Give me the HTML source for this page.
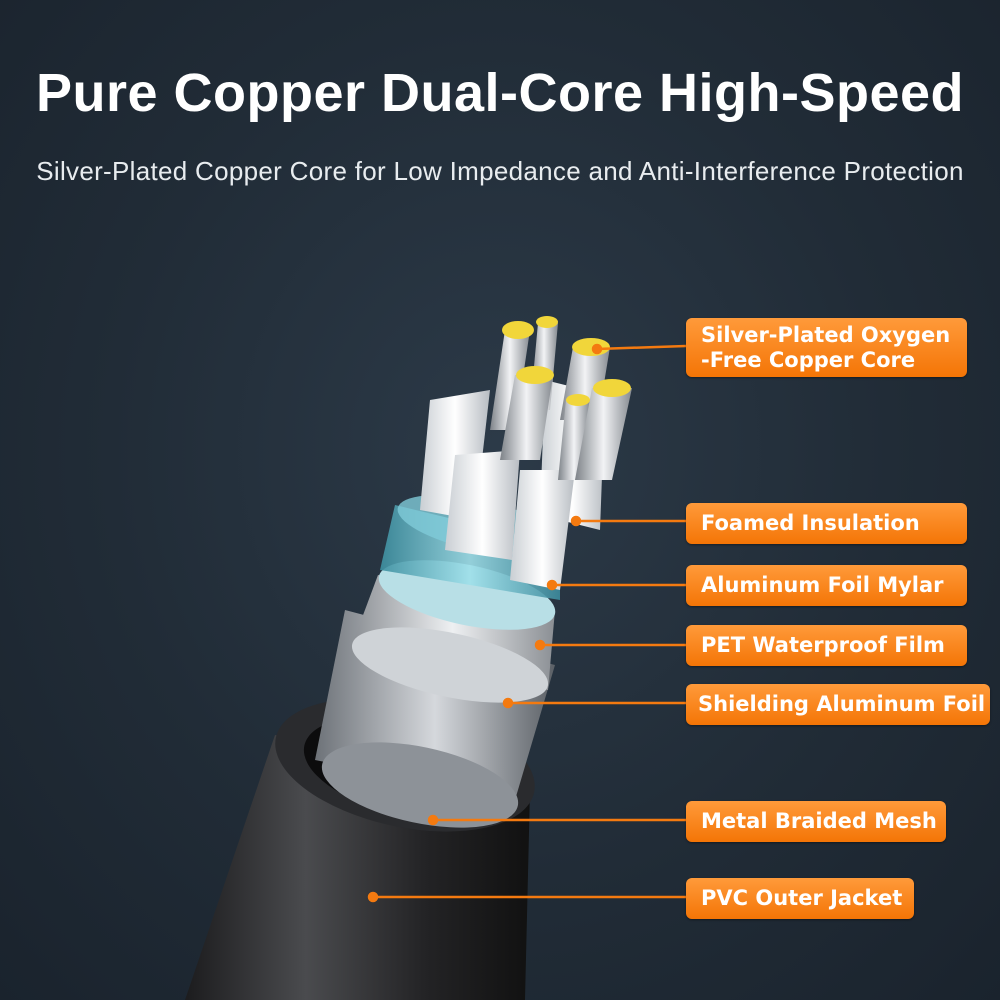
<!DOCTYPE html>
<html><head><meta charset="utf-8"><style>
html,body{margin:0;padding:0}
body{width:1000px;height:1000px;overflow:hidden;background:radial-gradient(ellipse at 50% 45%,#2c3a48 0%,#212c37 55%,#1a232d 100%);font-family:"Liberation Sans",sans-serif;position:relative}
h1{position:absolute;top:62px;left:0;width:1000px;text-align:center;margin:0;color:#fff;font-size:54px;font-weight:bold;letter-spacing:0.5px}
.sub{position:absolute;top:156px;left:0;width:1000px;text-align:center;color:#e8ecef;font-size:26px;letter-spacing:0.3px}
.lb{position:absolute;left:686px;background:linear-gradient(180deg,#ff9a3a,#f47506);border-radius:6px;color:#fff;font-weight:bold;font-family:"DejaVu Sans","Liberation Sans",sans-serif;font-size:21px;padding-left:15px;box-sizing:border-box;line-height:41px;box-shadow:0 1px 2px rgba(0,0,0,.4);white-space:nowrap}
svg{position:absolute;left:0;top:0}
</style></head><body>
<h1>Pure Copper Dual-Core High-Speed</h1>
<div class="sub">Silver-Plated Copper Core for Low Impedance and Anti-Interference Protection</div>
<svg width="1000" height="1000">
<defs>
<linearGradient id="jk" x1="0" x2="1"><stop offset="0" stop-color="#1c1c1e"/><stop offset=".35" stop-color="#4a4b4e"/><stop offset=".7" stop-color="#232325"/><stop offset="1" stop-color="#111"/></linearGradient>
<linearGradient id="br" x1="0" x2="1"><stop offset="0" stop-color="#6d7278"/><stop offset=".5" stop-color="#d5d8dc"/><stop offset="1" stop-color="#5b6066"/></linearGradient>
<linearGradient id="al" x1="0" x2="1"><stop offset="0" stop-color="#8a8e93"/><stop offset=".5" stop-color="#eef0f2"/><stop offset="1" stop-color="#8b8f94"/></linearGradient>
<linearGradient id="cy" x1="0" x2="1"><stop offset="0" stop-color="#3d8fa0"/><stop offset=".5" stop-color="#9fe0ea"/><stop offset="1" stop-color="#3c8a9c"/></linearGradient>
<linearGradient id="wh" x1="0" x2="1"><stop offset="0" stop-color="#c9ced3"/><stop offset=".5" stop-color="#ffffff"/><stop offset="1" stop-color="#b7bcc2"/></linearGradient>
<linearGradient id="sv" x1="0" x2="1"><stop offset="0" stop-color="#7d8288"/><stop offset=".5" stop-color="#f2f3f5"/><stop offset="1" stop-color="#858a90"/></linearGradient>
</defs>
<polygon points="275,735 530,790 525,1000 185,1000" fill="url(#jk)"/>
<ellipse cx="405" cy="765" rx="132" ry="62" transform="rotate(12 405 765)" fill="#2a2b2e"/>
<ellipse cx="410" cy="768" rx="108" ry="48" transform="rotate(12 410 768)" fill="#0c0c0d"/>
<polygon points="345,610 555,665 515,800 315,760" fill="url(#br)"/>
<ellipse cx="420" cy="785" rx="100" ry="38" transform="rotate(12 420 785)" fill="#8d9298"/>
<polygon points="378,575 555,610 548,690 350,650" fill="url(#al)"/>
<ellipse cx="450" cy="665" rx="100" ry="32" transform="rotate(12 450 665)" fill="#cfd3d7"/>
<ellipse cx="467" cy="595" rx="90" ry="30" transform="rotate(12 467 595)" fill="#b8dfe6"/>
<polygon points="395,505 560,545 560,600 380,570" fill="url(#cy)" opacity=".9"/>
<ellipse cx="478" cy="525" rx="82" ry="25" transform="rotate(12 478 525)" fill="#7fcbd8" opacity=".8"/>
<polygon points="430,400 490,390 475,520 420,510" fill="url(#wh)"/>
<polygon points="455,455 520,450 512,560 445,550" fill="url(#wh)"/>
<polygon points="545,380 605,395 600,530 540,515" fill="url(#wh)"/>
<polygon points="520,470 575,470 560,590 510,580" fill="url(#wh)"/>
<polygon points="505,330 530,330 515,430 490,430" fill="url(#sv)"/>
<polygon points="538,323 558,323 550,410 530,410" fill="url(#sv)"/>
<polygon points="573,347 610,347 598,420 560,420" fill="url(#sv)"/>
<polygon points="515,375 553,375 540,460 500,460" fill="url(#sv)"/>
<polygon points="566,400 590,400 585,480 558,480" fill="url(#sv)"/>
<polygon points="592,388 632,388 612,480 575,480" fill="url(#sv)"/>
<ellipse cx="518" cy="330" rx="16" ry="9" fill="#f1d63a"/>
<ellipse cx="547" cy="322" rx="11" ry="6" fill="#f1d63a"/>
<ellipse cx="591" cy="347" rx="19" ry="9" fill="#f1d63a"/>
<ellipse cx="535" cy="375" rx="19" ry="9" fill="#f1d63a"/>
<ellipse cx="612" cy="388" rx="19" ry="9" fill="#f1d63a"/>
<ellipse cx="578" cy="400" rx="12" ry="6" fill="#f1d63a"/>
<g stroke="#f47a10" stroke-width="2.5" fill="#f47a10">
<line x1="597" y1="349" x2="686" y2="346"/><circle cx="597" cy="349" r="4"/>
<line x1="576" y1="521" x2="686" y2="521"/><circle cx="576" cy="521" r="4"/>
<line x1="552" y1="585" x2="686" y2="585"/><circle cx="552" cy="585" r="4"/>
<line x1="540" y1="645" x2="686" y2="645"/><circle cx="540" cy="645" r="4"/>
<line x1="508" y1="703" x2="686" y2="703"/><circle cx="508" cy="703" r="4"/>
<line x1="433" y1="820" x2="686" y2="820"/><circle cx="433" cy="820" r="4"/>
<line x1="373" y1="897" x2="686" y2="897"/><circle cx="373" cy="897" r="4"/>
</g>
</svg>
<div class="lb" style="top:318px;width:281px;height:59px;line-height:25px;padding-top:5px">Silver-Plated Oxygen<br>-Free Copper Core</div>
<div class="lb" style="top:503px;width:281px;height:41px">Foamed Insulation</div>
<div class="lb" style="top:565px;width:281px;height:41px">Aluminum Foil Mylar</div>
<div class="lb" style="top:625px;width:281px;height:41px">PET Waterproof Film</div>
<div class="lb" style="top:684px;width:304px;height:41px;padding-left:12px">Shielding Aluminum Foil</div>
<div class="lb" style="top:801px;width:260px;height:41px">Metal Braided Mesh</div>
<div class="lb" style="top:878px;width:228px;height:41px">PVC Outer Jacket</div>
</body></html>
